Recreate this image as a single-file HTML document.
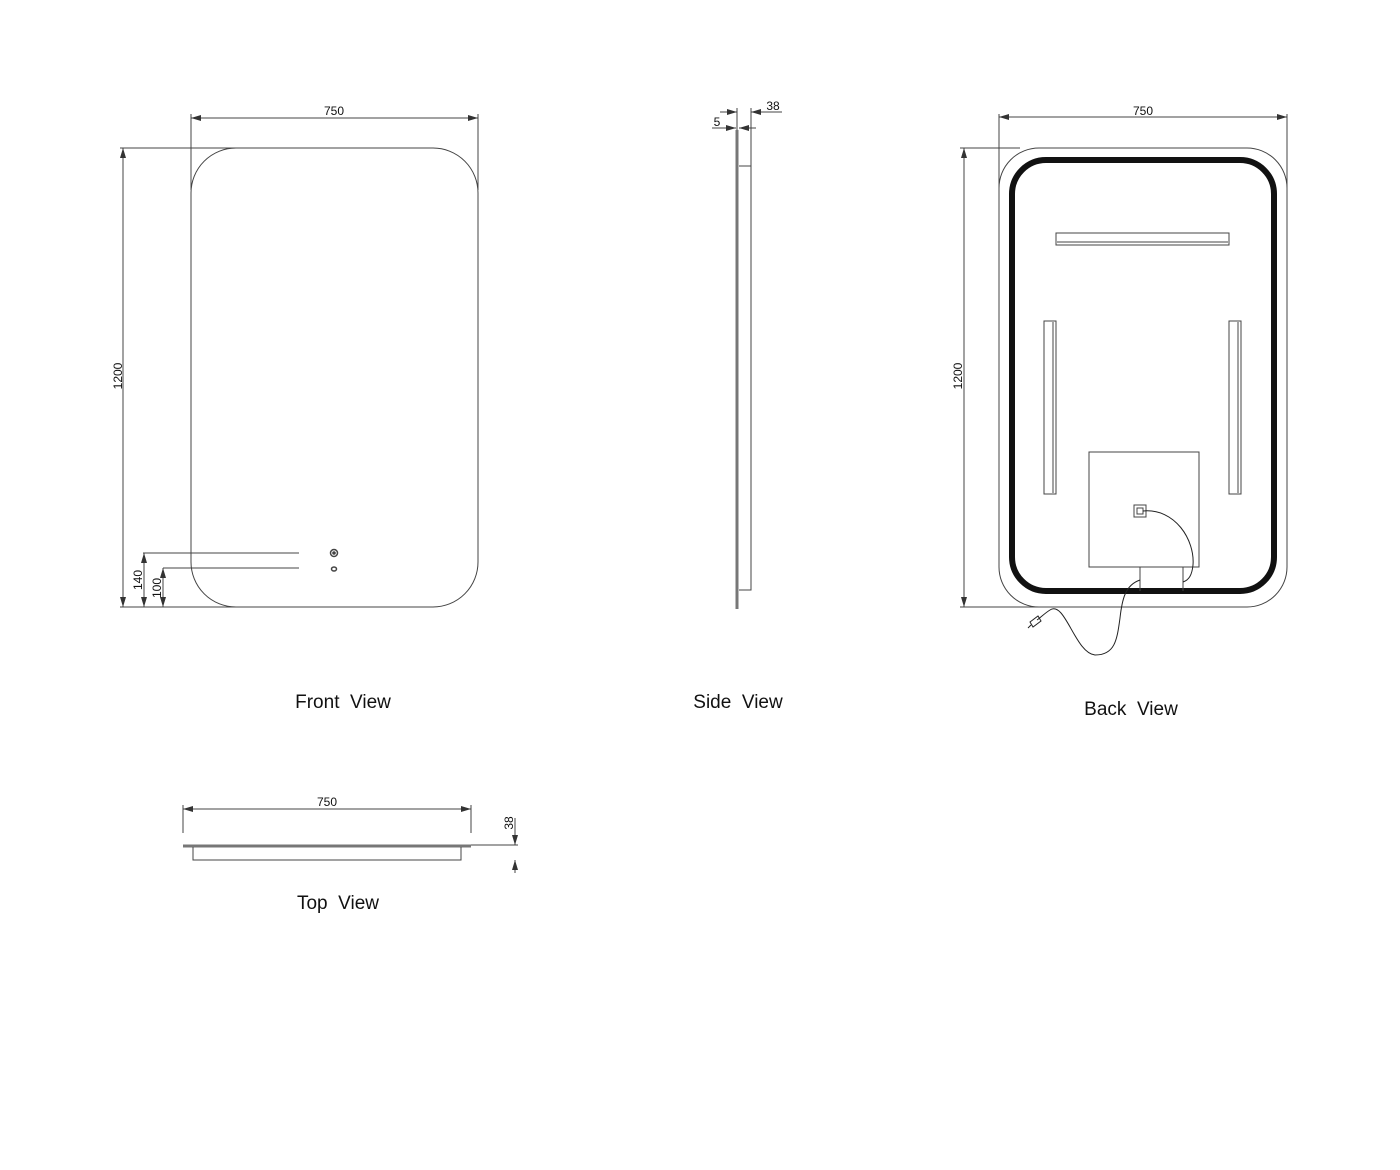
<!DOCTYPE html>
<html><head><meta charset="utf-8"><style>body{margin:0;background:#fff}svg{display:block}</style></head><body>
<svg width="1400" height="1170" viewBox="0 0 1400 1170" xmlns="http://www.w3.org/2000/svg" font-family="Liberation Sans, sans-serif">
<defs>
<marker id="a" viewBox="0 0 10 6" refX="10" refY="3" markerWidth="10" markerHeight="6" orient="auto-start-reverse" markerUnits="userSpaceOnUse"><path d="M0,0 L10,3 L0,6z" fill="#333"/></marker>
</defs>
<g stroke="#444" stroke-width="1" fill="none">
<rect x="191" y="148" width="287" height="459" rx="45" ry="45"/>
<line x1="191" y1="114" x2="191" y2="190"/><line x1="478" y1="114" x2="478" y2="190"/>
<line x1="191" y1="118" x2="478" y2="118" marker-start="url(#a)" marker-end="url(#a)"/>
<line x1="120" y1="148" x2="236" y2="148"/><line x1="120" y1="607" x2="236" y2="607"/>
<line x1="123" y1="148" x2="123" y2="607" marker-start="url(#a)" marker-end="url(#a)"/>
<line x1="143" y1="553" x2="299" y2="553"/><line x1="163" y1="568" x2="299" y2="568"/>
<line x1="144" y1="553" x2="144" y2="607" marker-start="url(#a)" marker-end="url(#a)"/>
<line x1="163" y1="568" x2="163" y2="607" marker-start="url(#a)" marker-end="url(#a)"/>
<circle cx="334" cy="553" r="3.5" stroke-width="1.5"/>
<circle cx="334" cy="553" r="1.3" fill="#444"/>
<ellipse cx="334" cy="569" rx="2.5" ry="2" stroke-width="1.5"/>
<line x1="737" y1="130" x2="737" y2="609" stroke="#777" stroke-width="3"/>
<path d="M739 166 H751 V590 H739"/>
<line x1="737" y1="108" x2="737" y2="130"/><line x1="751" y1="108" x2="751" y2="166"/>
<line x1="720" y1="112" x2="737" y2="112" marker-end="url(#a)"/>
<line x1="782" y1="112" x2="751" y2="112" marker-end="url(#a)"/>
<line x1="712" y1="128" x2="736" y2="128" marker-end="url(#a)"/>
<line x1="756" y1="128" x2="739" y2="128" marker-end="url(#a)"/>
<rect x="999" y="148" width="288" height="459" rx="40" ry="40"/>
<rect x="1012" y="160" width="262" height="431" rx="34" ry="34" stroke="#111" stroke-width="6"/>
<rect x="1056" y="233" width="173" height="12"/><line x1="1057" y1="242" x2="1228" y2="242"/>
<rect x="1044" y="321" width="12" height="173"/><line x1="1053" y1="322" x2="1053" y2="493"/>
<rect x="1229" y="321" width="12" height="173"/><line x1="1238" y1="322" x2="1238" y2="493"/>
<rect x="1089" y="452" width="110" height="115"/>
<path d="M1140 567 V591 M1183 567 V591"/>
<rect x="1134" y="505" width="12" height="12"/><rect x="1137" y="508" width="6" height="6"/>
<path d="M1143 511 C1175 508 1195 540 1193 565 C1192 575 1189 580 1183 582" stroke="#222"/>
<path d="M1140 580 C1125 585 1122 600 1120 618 C1117 640 1115 655 1095 655 C1075 653 1065 600 1050 610 C1045 613 1040 618 1037 620" stroke="#222"/>
<path d="M1030 622 l8 -6 l3 5 l-8 6z M1028 628 l3 -3" stroke="#222"/>
<line x1="999" y1="114" x2="999" y2="190"/><line x1="1287" y1="114" x2="1287" y2="190"/>
<line x1="999" y1="117" x2="1287" y2="117" marker-start="url(#a)" marker-end="url(#a)"/>
<line x1="960" y1="148" x2="1020" y2="148"/><line x1="960" y1="607" x2="1040" y2="607"/>
<line x1="964" y1="148" x2="964" y2="607" marker-start="url(#a)" marker-end="url(#a)"/>
<line x1="183" y1="805" x2="183" y2="833"/><line x1="471" y1="805" x2="471" y2="833"/>
<line x1="183" y1="809" x2="471" y2="809" marker-start="url(#a)" marker-end="url(#a)"/>
<line x1="183" y1="846" x2="471" y2="846" stroke="#777" stroke-width="3"/>
<path d="M193 847 V860 H461 V847"/>
<line x1="471" y1="845" x2="518" y2="845"/>
<line x1="515" y1="818" x2="515" y2="845" marker-end="url(#a)"/>
<line x1="515" y1="873" x2="515" y2="860" marker-end="url(#a)"/>
</g>
<g fill="#111" font-size="12">
<text x="334" y="115" text-anchor="middle">750</text>
<text transform="translate(122,376) rotate(-90)" text-anchor="middle">1200</text>
<text transform="translate(142,580) rotate(-90)" text-anchor="middle">140</text>
<text transform="translate(161,588) rotate(-90)" text-anchor="middle">100</text>
<text x="773" y="110" text-anchor="middle">38</text>
<text x="717" y="126" text-anchor="middle">5</text>
<text x="1143" y="115" text-anchor="middle">750</text>
<text transform="translate(962,376) rotate(-90)" text-anchor="middle">1200</text>
<text x="327" y="806" text-anchor="middle">750</text>
<text transform="translate(513,823) rotate(-90)" text-anchor="middle">38</text>
</g>
<g fill="#111" font-size="19" text-anchor="middle">
<text x="343" y="708" xml:space="preserve">Front  View</text>
<text x="738" y="708" xml:space="preserve">Side  View</text>
<text x="1131" y="715" xml:space="preserve">Back  View</text>
<text x="338" y="909" xml:space="preserve">Top  View</text>
</g>
</svg>
</body></html>
